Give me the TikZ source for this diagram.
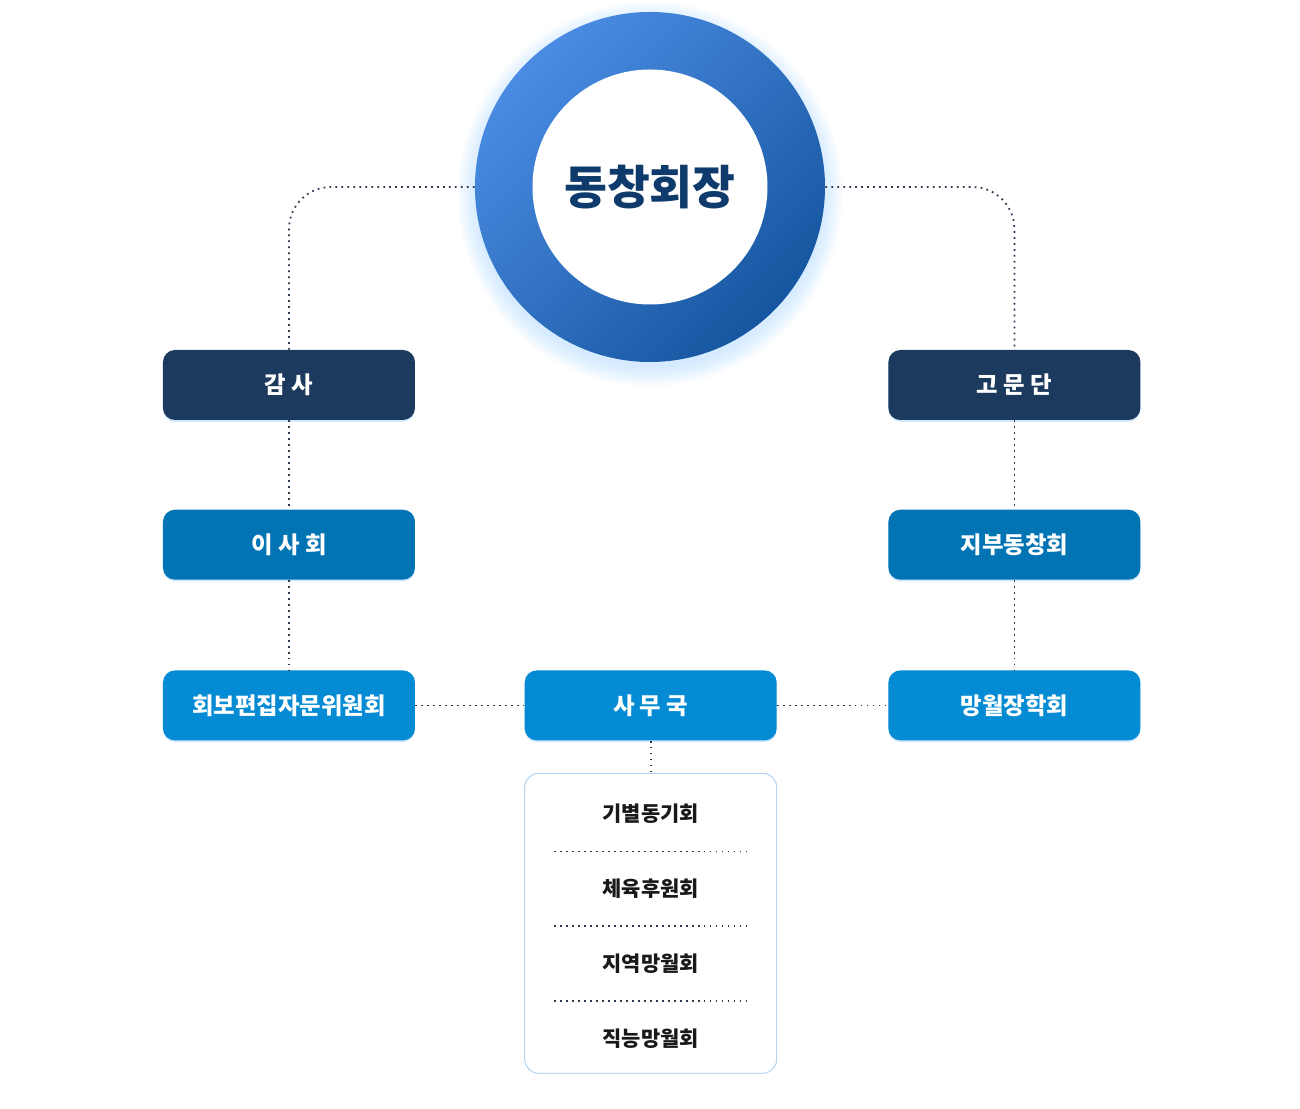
\documentclass[tikz,border=0pt]{standalone}
\usepackage{fontspec}
\newfontfamily\kr{Noto Sans CJK KR}
\usetikzlibrary{positioning,shapes,shadows}
\definecolor{navy}{HTML}{1C3A5E}
\definecolor{midblue}{HTML}{0274B4}
\definecolor{lightblue}{HTML}{058BD4}
\definecolor{ringtop}{HTML}{4A8CE3}
\definecolor{ringbot}{HTML}{1656A0}
\definecolor{titleblue}{HTML}{0F3B6C}
\definecolor{dotgray}{HTML}{2B3850}
\definecolor{glow}{HTML}{8CC8FF}
\definecolor{listedge}{HTML}{B5D5F2}

\begin{document}
\begin{tikzpicture}
     \tikzset{orgbox/.style={rounded corners=0.24cm, minimum width=5.04cm, minimum height=1.4cm, text=white, font=\kr\bfseries\fontsize{13.3}{16}\selectfont, drop shadow={shadow xshift=0pt, shadow yshift=-1pt, fill=glow, opacity=0.4}}}
     \tikzset{item/.style={minimum width=3.84cm, minimum height=1.48cm, inner sep=0pt, font=\kr\bfseries\fontsize{11.9}{14}\selectfont, text=black!90}}
     \tikzset{line/.style={draw=dotgray, line width=1pt, dash pattern=on 1pt off 2.4pt}}
     \useasboundingbox (-13,3.74) rectangle (13,-18.44);

     % glow round the ring
     \foreach \g in {1,...,10}
        \fill[glow, opacity=0.045] (0,-0.14) circle ({3.45+0.04*\g});
     \node [circle, minimum size=7cm, top color=ringtop, bottom color=ringbot, shading angle=45] (ring) at (0,0) {};
     \node [circle, fill=white, minimum size=4.7cm, text=titleblue, font=\kr\bfseries\fontsize{26.5}{30}\selectfont] (chair) at (ring) {동창회장};

     \node [orgbox, fill=navy] (gamsa) at (-7.22,-3.96) {감 사};
     \node [orgbox, fill=midblue, below=1.78cm of gamsa] (isahoe) {이 사 회};
     \node [orgbox, fill=lightblue, below=1.8cm of isahoe] (hoebo) {회보편집자문위원회};
     \node [orgbox, fill=lightblue, right=2.18cm of hoebo] (samu) {사 무 국};
     \node [orgbox, fill=lightblue, right=2.22cm of samu] (mangwol) {망월장학회};
     \node [orgbox, fill=midblue, above=1.8cm of mangwol] (jibu) {지부동창회};
     \node [orgbox, fill=navy, above=1.78cm of jibu] (gomun) {고 문 단};

     \node [draw=listedge, line width=0.6pt, fill=white, rounded corners=0.28cm, minimum width=5.04cm, minimum height=6cm, below=0.64cm of samu] (sub) {};
     \node [item, below=0.08cm of sub.north] (gibyeol) {기별동기회};
     \node [item, below=0cm of gibyeol] (cheyuk) {체육후원회};
     \node [item, below=0cm of cheyuk] (jiyeok) {지역망월회};
     \node [item, below=0cm of jiyeok] (jikneung) {직능망월회};

     \path [line, rounded corners=0.84cm] (ring.west) -| (gamsa.north);
     \path [line, rounded corners=0.84cm] (ring.east) -| (gomun.north);
     \path [line] (gamsa.south) -- (isahoe.north);
     \path [line] (isahoe.south) -- (hoebo.north);
     \path [line] (gomun.south) -- (jibu.north);
     \path [line] (jibu.south) -- (mangwol.north);
     \path [line] (hoebo.east) -- (samu.west);
     \path [line] (samu.east) -- (mangwol.west);
     \path [line] (samu.south) -- (sub.north);

     \path [line] (gibyeol.south west) -- (gibyeol.south east);
     \path [line] (cheyuk.south west) -- (cheyuk.south east);
     \path [line] (jiyeok.south west) -- (jiyeok.south east);
\end{tikzpicture}
\end{document}
